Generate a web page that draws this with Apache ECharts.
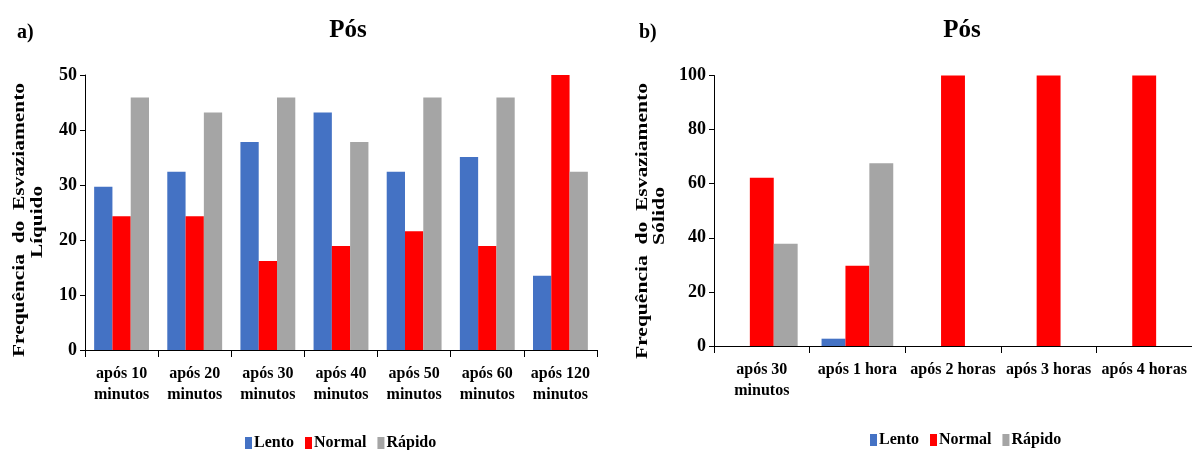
<!DOCTYPE html>
<html>
<head>
<meta charset="utf-8">
<script src="https://cdn.jsdelivr.net/npm/echarts@6/dist/echarts.min.js"></script>
<style>
html,body{margin:0;padding:0;background:#fff;}
#c{width:1192px;height:450px;}
</style>
</head>
<body>
<div id="c"></div>
<script>
// ---- Data ----
const catsLiq = ['após 10\nminutos','após 20\nminutos','após 30\nminutos','após 40\nminutos','após 50\nminutos','após 60\nminutos','após 120\nminutos'];
const lentoLiq = [29.7, 32.4, 37.8, 43.2, 32.4, 35.1, 13.5];
const normalLiq = [24.3, 24.3, 16.2, 18.9, 21.6, 18.9, 50];
const rapidoLiq = [45.9, 43.2, 45.9, 37.8, 45.9, 45.9, 32.4];

const catsSol = ['após 30\nminutos','após 1 hora','após 2 horas','após 3 horas','após 4 horas'];
const lentoSol = [0, 2.7, 0, 0, 0];
const normalSol = [62.2, 29.7, 100, 100, 100];
const rapidoSol = [37.8, 67.6, 0, 0, 0];

const seriesNames = ['Lento','Normal','Rápido'];
const colors = ['#4472C4','#FF0000','#A5A5A5'];

const FONT = '"Liberation Serif", "Times New Roman", serif';

function measure(text, size){
  const cv = document.createElement('canvas').getContext('2d');
  cv.font = 'bold ' + size + 'px ' + FONT;
  return cv.measureText(text).width;
}

function axisTitle(text, x, y, targetLen, size){
  const w = measure(text, size);
  return {
    type:'text', x:x, y:y, rotation: Math.PI/2, scaleX: targetLen / w,
    style:{ text:text, font:'bold ' + size + 'px ' + FONT, fill:'#000', align:'center', verticalAlign:'middle' }
  };
}

const chart = echarts.init(document.getElementById('c'), null, {renderer:'canvas'});

const axisLineStyle = {show:true, lineStyle:{color:'#000', width:1}};
const labelStyle = {color:'#000', fontFamily:FONT, fontWeight:'bold'};

function mkX(idx, cats){
  return {
    type:'category', gridIndex:idx, data:cats,
    axisLine: axisLineStyle,
    axisTick:{show:true, alignWithLabel:false, length:7, lineStyle:{color:'#000'}},
    axisLabel: Object.assign({fontSize:16, lineHeight:21, margin:13, interval:0}, labelStyle),
    splitLine:{show:false}
  };
}
function mkY(idx, max, interval){
  return {
    type:'value', gridIndex:idx, min:0, max:max, interval:interval,
    axisLine: axisLineStyle,
    axisTick:{show:true, length:5, lineStyle:{color:'#000'}},
    axisLabel: Object.assign({fontSize:18, margin:8}, labelStyle),
    splitLine:{show:false}
  };
}
function mkSeries(name, data, idx, color){
  return {
    type:'bar', name:name, data:data, xAxisIndex:idx, yAxisIndex:idx,
    barGap:'0%', barCategoryGap:'25%', itemStyle:{color:color}, animation:false
  };
}

const legendBase = {
  data: seriesNames, icon:'rect', itemWidth:7, itemHeight:12, itemGap:11,
  textStyle:{fontFamily:FONT, fontWeight:'bold', fontSize:16, color:'#000', padding:[0,0,0,-3]},
  selectedMode:false
};

chart.setOption({
  backgroundColor:'#fff',
  animation:false,
  color: colors,
  title:[
    {text:'Pós', left:343, top:13, textAlign:'center', textStyle:{fontFamily:FONT, fontWeight:'bold', fontSize:25, color:'#000'}},
    {text:'Pós', left:957, top:13, textAlign:'center', textStyle:{fontFamily:FONT, fontWeight:'bold', fontSize:25, color:'#000'}},
    {text:'a)', left:12, top:18, textStyle:{fontFamily:FONT, fontWeight:'bold', fontSize:20, color:'#000'}},
    {text:'b)', left:634, top:18, textStyle:{fontFamily:FONT, fontWeight:'bold', fontSize:20, color:'#000'}}
  ],
  grid:[
    {left:85, top:75, width:512, height:275},
    {left:714, top:75.5, width:485, height:270.5}
  ],
  xAxis:[ mkX(0, catsLiq), mkX(1, catsSol) ],
  yAxis:[ mkY(0, 50, 10), mkY(1, 100, 20) ],
  legend:[
    Object.assign({left:240, top:430}, legendBase),
    Object.assign({left:865, top:427}, legendBase)
  ],
  series:[
    mkSeries('Lento', lentoLiq, 0, colors[0]),
    mkSeries('Normal', normalLiq, 0, colors[1]),
    mkSeries('Rápido', rapidoLiq, 0, colors[2]),
    mkSeries('Lento', lentoSol, 1, colors[0]),
    mkSeries('Normal', normalSol, 1, colors[1]),
    mkSeries('Rápido', rapidoSol, 1, colors[2])
  ],
  graphic:[
    axisTitle('Frequência  do  Esvaziamento', 20, 220, 274, 17),
    axisTitle('Líquido', 38, 222, 72, 17),
    axisTitle('Frequência  do  Esvaziamento', 643, 221, 276, 17),
    axisTitle('Sólido', 660, 216, 58, 17)
  ]
});
</script>
</body>
</html>
